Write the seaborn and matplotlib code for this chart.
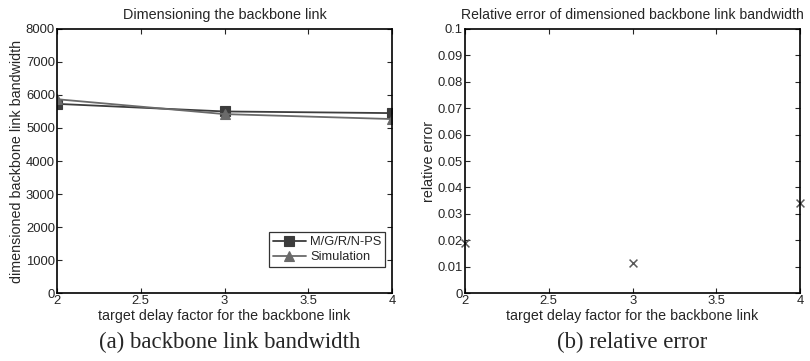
import matplotlib
matplotlib.use('Agg')
import matplotlib.pyplot as plt
import seaborn as sns
import pandas as pd

# data
delay_factor = [2, 3, 4]
bw_model = [5730, 5500, 5450]
bw_sim = [5870, 5420, 5270]
rel_error = [0.019, 0.0115, 0.034]

sns.set_theme(style="white")
plt.rcParams['font.family'] = ['Liberation Sans', 'DejaVu Sans']
plt.rcParams['xtick.direction'] = 'in'
plt.rcParams['ytick.direction'] = 'in'

fig = plt.figure(figsize=(8.1, 3.61), dpi=100)
ax1 = fig.add_axes([0.0704, 0.188, 0.4136, 0.732])
ax2 = fig.add_axes([0.574, 0.188, 0.414, 0.732])

# left panel: backbone link bandwidth
df = pd.DataFrame({
    'x': delay_factor * 2,
    'bw': bw_model + bw_sim,
    'series': ['M/G/R/N-PS'] * 3 + ['Simulation'] * 3,
})
sns.lineplot(data=df, x='x', y='bw', hue='series', style='series',
             palette=['#3c3c3c', '#6a6a6a'], markers=['s', '^'], dashes=False,
             markersize=7, linewidth=1.3, ax=ax1)
ax1.set_xlim(2, 4)
ax1.set_ylim(0, 8000)
ax1.set_xticks([2, 2.5, 3, 3.5, 4])
ax1.set_xticklabels(['2', '2.5', '3', '3.5', '4'])
ax1.set_yticks(range(0, 8001, 1000))
ax1.set_title('Dimensioning the backbone link', fontsize=10.4, pad=7)
ax1.set_xlabel('target delay factor for the backbone link', fontsize=10.3, labelpad=1)
ax1.set_ylabel('dimensioned backbone link bandwidth', fontsize=10.3, labelpad=1)
leg = ax1.legend(loc='lower right', bbox_to_anchor=(0.98, 0.098), fontsize=9.3,
                 frameon=True, fancybox=False, edgecolor='black',
                 handlelength=2.6, handletextpad=0.3, borderpad=0.3,
                 labelspacing=0.25, borderaxespad=0)
leg.get_frame().set_linewidth(0.9)

# solid markers, no white edge
for line in ax1.get_lines() + leg.get_lines():
    line.set_markeredgecolor(line.get_color())
    line.set_markeredgewidth(0.8)

# right panel: relative error
sns.scatterplot(x=delay_factor, y=rel_error, marker='x', color='#5a5a5a',
                s=32, linewidth=1.1, ax=ax2, clip_on=False)
ax2.set_xlim(2, 4)
ax2.set_ylim(0, 0.1)
ax2.set_xticks([2, 2.5, 3, 3.5, 4])
ax2.set_xticklabels(['2', '2.5', '3', '3.5', '4'])
ax2.set_yticks([i / 100 for i in range(0, 11)])
ax2.set_yticklabels(['0'] + ['%.2f' % (i / 100) for i in range(1, 10)] + ['0.1'])
ax2.set_title('Relative error of dimensioned backbone link bandwidth', fontsize=10.1, pad=7)
ax2.set_xlabel('target delay factor for the backbone link', fontsize=10.3, labelpad=1)
ax2.set_ylabel('relative error', fontsize=10.3, labelpad=1)

for ax in (ax1, ax2):
    ax.tick_params(axis='both', labelsize=9.4, length=3.5, width=0.8, pad=1.5,
                   top=True, right=True, bottom=True, left=True)
    for sp in ax.spines.values():
        sp.set_color('black')
        sp.set_linewidth(1.2)

fig.text(0.284, 0.035, '(a) backbone link bandwidth', ha='center', fontsize=16.4,
         family='Liberation Serif')
fig.text(0.78, 0.035, '(b) relative error', ha='center', fontsize=16.4,
         family='Liberation Serif')

fig.savefig('out.png', dpi=100)
